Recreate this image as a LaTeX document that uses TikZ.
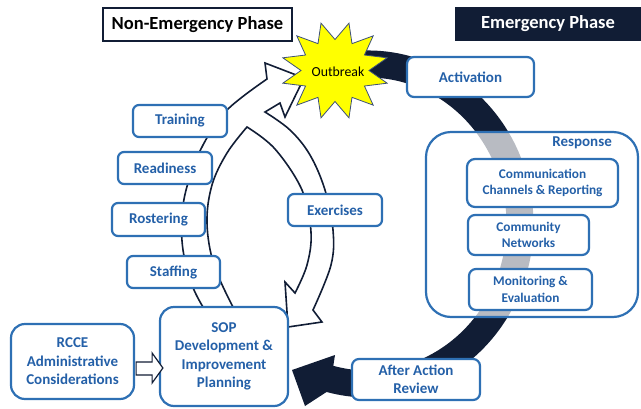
\documentclass[tikz,border=0pt]{standalone}
\usepackage{fontspec}
\setmainfont{Carlito}
\usetikzlibrary{calc}
\definecolor{navy}{RGB}{17,29,53}
\definecolor{boxblue}{RGB}{46,112,180}
\definecolor{txtblue}{RGB}{36,96,168}
\definecolor{starline}{RGB}{60,80,120}
\definecolor{staryellow}{RGB}{255,255,0}
\begin{document}
\begin{tikzpicture}[x=1pt,y=-1pt,
  bx/.style={draw=boxblue, line width=2.2pt, fill=white, rounded corners=6pt, inner sep=0pt, align=center, text=txtblue, font=\bfseries\fontsize{15}{18.5}\selectfont},
  smallbx/.style={bx, font=\bfseries\fontsize{13.3}{16.5}\selectfont},
  whitearrow/.style={draw=navy, line width=1.6pt, fill=white, line join=miter},
  phasebox/.style={inner sep=0pt, font=\bfseries\fontsize{18.5}{22}\selectfont},
]
\useasboundingbox (0,0) rectangle (641,408);

% emergency (dark) band
\fill[navy] ($(368,224)+(-103:165.5 and 173.5)$)
  arc[start angle=-103, end angle=104.5, x radius=165.5, y radius=173.5]
  -- (305,406) -- (292,370) -- (335,355)
  -- ($(368,224)+(104.5:138.5 and 146.5)$)
  arc[start angle=104.5, end angle=-103, x radius=138.5, y radius=146.5]
  -- cycle;

% white cycle arrows (non-emergency)
\draw[whitearrow] (203,320) -- (203,307)
  -- plot[smooth, tension=0.6] coordinates {(203,307) (192,285) (183,250) (182,215) (188,183) (203,145) (227,110) (267,79)}
  -- (265,63) -- (304,78) -- (285,117) -- (280,103) -- (265,112)
  -- plot[smooth, tension=0.6] coordinates {(265,112) (290,130) (310,155) (325,190) (333,230) (331,265) (313,310)}
  -- (322,322) -- (288,327) -- (285,282) -- (295,293)
  -- plot[smooth, tension=0.6] coordinates {(295,293) (307,265) (311,232) (302,190) (275,149) (247,127)}
  -- plot[smooth, tension=0.6] coordinates {(247,127) (227,153) (212,185) (207,223) (214,265) (233,307)}
  -- (236,320) -- cycle;

% phase headers
\node[phasebox, draw=navy, line width=1.8pt, fill=white, text=black, minimum width=189, minimum height=33] (nonem) at (197.5,24.5) {Non-Emergency Phase};
\node[phasebox, fill=navy, text=white, minimum width=186, minimum height=34] (emerg) at (548,24) {Emergency Phase};

% outbreak star
\begin{scope}[shift={(335,70.5)}]
\draw[fill=staryellow, draw=starline, line width=0.8pt, line join=miter]
  (0:34 and 31) \foreach \a in {0,30,...,330}{ -- (\a:34 and 31) -- (\a+15:54 and 49)} -- cycle;
\end{scope}
\node[font=\fontsize{13.8}{16}\selectfont, text=black] (outbreak) at (338,72) {Outbreak};

% response group
\node[draw=boxblue, line width=2.2pt, fill=white, fill opacity=0.7, rounded corners=25pt, minimum width=212, minimum height=185, inner sep=0pt] (resp) at (532,224.5) {};
\node[anchor=east, text=txtblue, font=\bfseries\fontsize{15}{18.5}\selectfont, inner sep=0pt] (resplbl) at (612,143) {Response};
\node[smallbx, rounded corners=8pt, minimum width=151, minimum height=48] (comm) at (542.5,183) {Communication\\Channels \& Reporting};
\node[smallbx, rounded corners=7pt, minimum width=121, minimum height=40] (cnet) at (528.5,235) {Community\\Networks};
\node[smallbx, rounded corners=7pt, minimum width=123, minimum height=41] (mon) at (530.5,289.5) {Monitoring \&\\Evaluation};

% emergency boxes
\node[bx, rounded corners=7pt, minimum width=127, minimum height=40] (act) at (470.5,77) {Activation};
\node[bx, rounded corners=7pt, minimum width=128, minimum height=41] (aar) at (416,379.5) {After Action\\Review};

% non-emergency boxes
\node[bx, minimum width=94, minimum height=32] (train) at (180,121) {Training};
\node[bx, minimum width=94, minimum height=32] (ready) at (165,168) {Readiness};
\node[bx, minimum width=93, minimum height=33] (roster) at (158.5,219.5) {Rostering};
\node[bx, minimum width=93, minimum height=32] (staff) at (173.5,272) {Staffing};
\node[bx, minimum width=94, minimum height=32] (exer) at (335,210) {Exercises};

% SOP and RCCE
\node[bx, rounded corners=14pt, minimum width=128, minimum height=99] (sop) at (224,356.5) {SOP\\Development \&\\Improvement\\Planning};
\node[bx, rounded corners=14pt, minimum width=123, minimum height=75] (rcce) at (72.5,361.5) {RCCE\\Administrative\\Considerations};

% open arrow RCCE -> SOP
\draw[draw=navy, line width=1.2pt, fill=white, line join=miter]
  ($(rcce.east)+(1,0.5)$) -- ($(rcce.east)+(17,0.5)$) -- ($(rcce.east)+(17,-8.5)$)
  -- ($(sop.west)+(4,11.5)$)
  -- ($(rcce.east)+(17,21.5)$) -- ($(rcce.east)+(17,13.5)$) -- ($(rcce.east)+(1,13.5)$) -- cycle;
\end{tikzpicture}
\end{document}
